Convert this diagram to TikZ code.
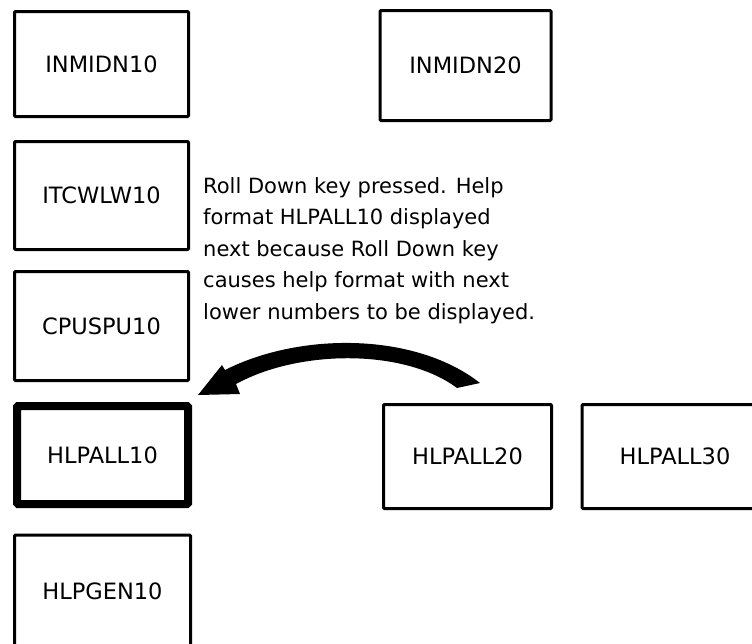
\documentclass[tikz,border=0pt]{standalone}
\usepackage{fontspec}
\setmainfont{DejaVu Sans}
\usetikzlibrary{calc}
\begin{document}
\begin{tikzpicture}[x=1pt,y=-1pt,
  box/.style={draw=black, line width=3pt, rounded corners=1pt, inner sep=0pt,
    font=\fontsize{22.5}{24}\selectfont},
  selbox/.style={box, line width=8pt},
  note/.style={anchor=base west, align=left, inner sep=0pt,
    font=\fontsize{21}{31.5}\selectfont}]
\useasboundingbox (0,0) rectangle (752,643);
\clip (0,0) rectangle (752,643);
\fill[white] (0,0) rectangle (752,643);
% boxes (centre, path size)
\node[box, minimum width=174pt, minimum height=105pt] (in10) at (101.5,64) {INMIDN10};
\node[box, minimum width=171pt, minimum height=110pt] (in20) at (465.5,65.5) {INMIDN20};
\node[box, minimum width=174pt, minimum height=108pt] (itc) at (101.5,195.5) {ITCWLW10};
\node[box, minimum width=174pt, minimum height=109pt] (cpu) at (101.5,326) {CPUSPU10};
\node[selbox, minimum width=171pt, minimum height=98pt] (h10) at (102.5,455) {HLPALL10};
\node[box, minimum width=176pt, minimum height=112pt] (gen) at (102.5,591) {HLPGEN10};
\node[box, minimum width=168pt, minimum height=104pt] (h20) at (467.5,456.5) {HLPALL20};
\node[box, minimum width=186pt, minimum height=104pt] (h30) at (675,456.5) {HLPALL30};
% note (anchor at the baseline of its last line)
\node[note] (txt) at (203,319) {Roll Down key pressed. Help\\format HLPALL10 displayed\\next because Roll Down key\\causes help format with next\\lower numbers to be displayed.};
% arrow from HLPALL20 to HLPALL10
\coordinate (aS) at ($(h20.north west)+(98,-20)$);
\coordinate (aT) at ($(h10.north east)+(6,-7)$);
\fill[black] (aS) .. controls (415,332) and (300,332) .. (225,370)
  -- (222,365) -- (aT) -- (240,394) -- (236,384)
  .. controls (300,349) and (405,349) .. (457,388) -- cycle;
\end{tikzpicture}
\end{document}
